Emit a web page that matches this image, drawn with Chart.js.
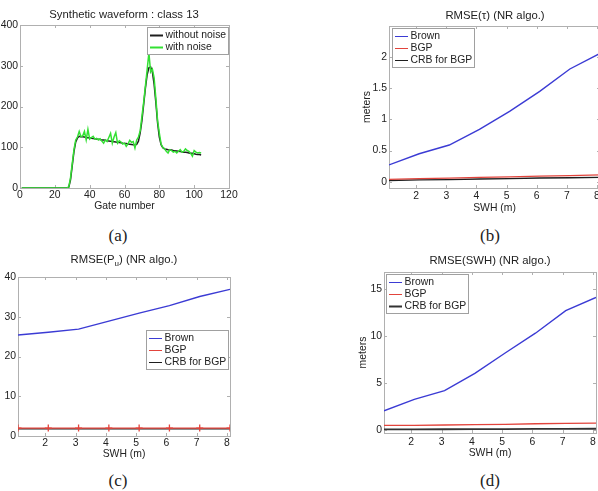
<!DOCTYPE html>
<html>
<head>
<meta charset="utf-8">
<script src="https://cdn.jsdelivr.net/npm/chart.js@4.4.1/dist/chart.umd.min.js"></script>
<style>
  html, body { margin: 0; padding: 0; background: #fff; }
  #fig { position: relative; width: 598px; height: 491px; overflow: hidden; }
  canvas { position: absolute; }
  .ttl { position: absolute; transform: translate(-50%, -50%); font: 11.3px "Liberation Sans", Arial, sans-serif; color: #222; white-space: nowrap; }
  .ttl sub { font-size: 8px; vertical-align: -3px; }
  .cap { position: absolute; transform: translate(-50%, -50%); font: 17px "Liberation Serif", serif; color: #222; }
</style>
</head>
<body>
<div id="fig">
  <canvas id="cA" width="246" height="215" style="left:0;top:0"></canvas>
  <canvas id="cB" width="265" height="215" style="left:355px;top:0"></canvas>
  <canvas id="cC" width="246" height="213" style="left:0;top:250px"></canvas>
  <canvas id="cD" width="270" height="213" style="left:350px;top:250px"></canvas>

  <div class="ttl" style="left:124px;top:14px">Synthetic waveform : class 13</div>
  <div class="ttl" style="left:495px;top:15px">RMSE(τ) (NR algo.)</div>
  <div class="ttl" style="left:124px;top:260px">RMSE(P<sub>u</sub>) (NR algo.)</div>
  <div class="ttl" style="left:490px;top:260px">RMSE(SWH) (NR algo.)</div>

  <div class="cap" style="left:118px;top:236px">(a)</div>
  <div class="cap" style="left:490px;top:236px">(b)</div>
  <div class="cap" style="left:118px;top:481px">(c)</div>
  <div class="cap" style="left:490px;top:481px">(d)</div>
</div>
<script>
// (a) waveform, one value per gate
var gates = Array.from({ length: 104 }, (_, i) => i + 1);
var noNoise = [0,0,0,0,0,0,0,0,0,0,0,0,0,0,0,0,0,0,0,0,0,0,0,0,0,0,0,
  2,20,55,90,113,123,127,126,125.5,125,124,123.5,123,122,121.5,121,120,119.5,119,118,117.5,117,116,
  115.5,115,114,113.5,113,112,111.5,111,110,109.5,109,108,107.5,107,106,105.5,107,115,135,165,
  205,245,278,295,297,285,255,210,160,125,106,99,96,95,94,93.5,93,92,91.5,91,90,89.5,89,88,
  87.5,87,86,85.5,85,84,83,82.5,82,81];
var withNoise = [0,0,0,0,0,0,0,0,0,0,0,0,0,0,0,0,0,0,0,0,0,0,0,0,0,0,0,
  3,25,60,95,118,125,139,126,128,139,118,144,120,124,127,120,122,118,121,115,110,118,114,
  124,134,110,125,136,110,116,113,108,110,102,108,117,112,114,98,118,125,140,175,
  210,250,290,332,285,292,270,220,165,135,108,100,96,90,86,94,92,88,90,86,90,94,88,90,
  96,92,90,85,78,92,88,86,87,86];
var gateTicks = [0, 20, 40, 60, 80, 100, 120];
var waveTicks = [0, 100, 200, 300, 400];

// (b)-(d) RMSE versus SWH
var swh = [1.1, 2.1, 3.1, 4.1, 5.1, 6.1, 7.1, 8.1];
var swhTicks = [2, 3, 4, 5, 6, 7, 8];
var brownTau = [0.27, 0.45, 0.59, 0.84, 1.13, 1.45, 1.81, 2.06];
var bgpTau = [0.04, 0.05, 0.06, 0.07, 0.08, 0.09, 0.10, 0.11];
var crbTau = [0.02, 0.03, 0.035, 0.045, 0.05, 0.06, 0.065, 0.07];
var tauTicks = [0, 0.5, 1, 1.5, 2];
var brownPu = [25.4, 26.1, 26.9, 28.9, 30.9, 32.8, 35.1, 36.9];
var bgpPu = [2.0, 2.0, 2.0, 2.0, 2.0, 2.0, 2.0, 2.0];
var crbPu = [1.8, 1.8, 1.8, 1.8, 1.8, 1.8, 1.8, 1.8];
var puTicks = [0, 10, 20, 30, 40];
var brownSwh = [2.06, 3.27, 4.2, 6.04, 8.2, 10.3, 12.7, 14.1];
var bgpSwh = [0.5, 0.52, 0.55, 0.58, 0.62, 0.68, 0.72, 0.75];
var crbSwh = [0.08, 0.09, 0.1, 0.11, 0.12, 0.13, 0.14, 0.15];
var swhErrTicks = [0, 5, 10, 15];

var FAM = '"Liberation Sans", Arial, sans-serif';
var small = { family: FAM, size: 10.4 };
var BLUE = '#3b3bd4', RED = '#e2443c', BLACK = '#1e1e1e', GREEN = '#33e033';

function pts(xs, ys) { return xs.map((x, i) => ({ x: x, y: ys[i] })); }

// matlab-like box with inward tick marks
var frame = {
  id: 'frame',
  beforeDatasetsDraw(chart) {
    var ctx = chart.ctx, a = chart.chartArea, x = chart.scales.x, y = chart.scales.y;
    ctx.save();
    ctx.strokeStyle = '#b0b0b0';
    ctx.lineWidth = 1;
    ctx.beginPath();
    x.ticks.forEach(t => {
      var p = Math.round(x.getPixelForValue(t.value)) + 0.5;
      ctx.moveTo(p, a.bottom); ctx.lineTo(p, a.bottom - 3);
      ctx.moveTo(p, a.top); ctx.lineTo(p, a.top + 3);
    });
    y.ticks.forEach(t => {
      var p = Math.round(y.getPixelForValue(t.value)) + 0.5;
      ctx.moveTo(a.left, p); ctx.lineTo(a.left + 3, p);
      ctx.moveTo(a.right, p); ctx.lineTo(a.right - 3, p);
    });
    ctx.stroke();
    ctx.strokeRect(Math.round(a.left) + 0.5, Math.round(a.top) + 0.5, Math.round(a.width), Math.round(a.height));
    ctx.restore();
  }
};

// legend drawn as a boxed table inside the plot
var boxLegend = {
  id: 'boxLegend',
  afterDatasetsDraw(chart, args, o) {
    var ctx = chart.ctx, a = chart.chartArea, sets = chart.data.datasets;
    ctx.save();
    ctx.font = '10.4px ' + FAM;
    var tw = Math.max.apply(null, sets.map(d => ctx.measureText(d.label).width));
    var w = Math.round(tw + 20.5), row = 12, h = Math.round(sets.length * row + 3);
    var x = Math.round(o.side == 'right' ? a.right - o.dx - w : a.left + o.dx);
    var y = Math.round(a.top + o.dy);
    ctx.fillStyle = '#fff';
    ctx.fillRect(x, y, w, h);
    ctx.strokeStyle = '#a0a0a0';
    ctx.lineWidth = 1;
    ctx.strokeRect(x + 0.5, y + 0.5, w, h);
    sets.forEach((d, i) => {
      var cy = Math.round(y + 1.5 + row * (i + 0.5)) + 0.5;
      ctx.strokeStyle = d.borderColor;
      ctx.lineWidth = Math.max(1, Math.round(d.borderWidth));
      ctx.beginPath();
      ctx.moveTo(x + 3, cy); ctx.lineTo(x + 16, cy);
      ctx.stroke();
      ctx.fillStyle = '#222';
      ctx.textBaseline = 'middle';
      ctx.fillText(d.label, x + 18.5, cy);
    });
    ctx.restore();
  }
};

function xAxis(min, max, ticks, h, tickPad, titleText, titlePad) {
  return {
    type: 'linear', position: 'bottom', min: min, max: max,
    afterBuildTicks: s => { s.ticks = ticks.map(v => ({ value: v })); },
    afterFit: s => { s.height = h; },
    grid: { display: false, drawTicks: false },
    border: { display: false },
    ticks: { font: small, color: '#222', padding: tickPad, maxRotation: 0, autoSkip: false, callback: v => String(v) },
    title: { display: true, text: titleText, font: small, color: '#222', padding: { top: 0, bottom: titlePad } }
  };
}

function yAxis(min, max, ticks, w, titleText, titlePad) {
  return {
    type: 'linear', position: 'left', min: min, max: max,
    afterBuildTicks: s => { s.ticks = ticks.map(v => ({ value: v })); },
    afterFit: s => { s.width = w; },
    grid: { display: false, drawTicks: false },
    border: { display: false },
    ticks: { font: small, color: '#222', padding: 2, autoSkip: false, callback: v => String(v) },
    title: { display: !!titleText, text: titleText || '', font: small, color: '#222', padding: { top: titlePad || 0, bottom: 0 } }
  };
}

function panel(id, datasets, scales, padding, legendPos) {
  return new Chart(document.getElementById(id), {
    type: 'line',
    data: { datasets: datasets },
    options: {
      responsive: false,
      animation: false,
      events: [],
      layout: { padding: padding },
      elements: { point: { radius: 0 }, line: { tension: 0 } },
      scales: scales,
      plugins: { legend: { display: false }, tooltip: { enabled: false }, boxLegend: legendPos }
    },
    plugins: [frame, boxLegend]
  });
}

// (a)
panel('cA', [
  { label: 'without noise', data: pts(gates, noNoise), borderColor: BLACK, borderWidth: 1.5, order: 1 },
  { label: 'with noise', data: pts(gates, withNoise), borderColor: GREEN, borderWidth: 1.5, order: 0 }
], {
  x: xAxis(0, 120, gateTicks, 27, 1, 'Gate number', 3),
  y: yAxis(0, 400, waveTicks, 20)
}, { top: 25, right: 17, left: 0, bottom: 0 }, { side: 'right', dx: 1, dy: 2 });

// (b)
panel('cB', [
  { label: 'Brown', data: pts(swh, brownTau), borderColor: BLUE, borderWidth: 1.4 },
  { label: 'BGP', data: pts(swh, bgpTau), borderColor: RED, borderWidth: 1.2 },
  { label: 'CRB for BGP', data: pts(swh, crbTau), borderColor: BLACK, borderWidth: 1.4 }
], {
  x: xAxis(1.1, 8.1, swhTicks, 27, 2, 'SWH (m)', 1),
  y: yAxis(-0.1, 2.5, tauTicks, 34, 'meters', 6)
}, { top: 26, right: 20, left: 0, bottom: 0 }, { side: 'left', dx: 3, dy: 2 });

// (c)
panel('cC', [
  { label: 'Brown', data: pts(swh, brownPu), borderColor: BLUE, borderWidth: 1.4 },
  { label: 'BGP', data: pts(swh, bgpPu), borderColor: RED, borderWidth: 1.2,
    pointStyle: 'cross', pointRadius: 3.5, pointBorderColor: RED, pointBorderWidth: 1.3, order: 0 },
  { label: 'CRB for BGP', data: pts(swh, crbPu), borderColor: BLACK, borderWidth: 1.4, order: 1 }
], {
  x: xAxis(1.1, 8.1, swhTicks, 27, 1, 'SWH (m)', 3),
  y: yAxis(0, 40, puTicks, 18)
}, { top: 27, right: 16, left: 0, bottom: 0 }, { side: 'right', dx: 2, dy: 53 });

// (d)
panel('cD', [
  { label: 'Brown', data: pts(swh, brownSwh), borderColor: BLUE, borderWidth: 1.4 },
  { label: 'BGP', data: pts(swh, bgpSwh), borderColor: RED, borderWidth: 1.3 },
  { label: 'CRB for BGP', data: pts(swh, crbSwh), borderColor: '#333', borderWidth: 1.8 }
], {
  x: xAxis(1.1, 8.1, swhTicks, 30, 3, 'SWH (m)', 4),
  y: yAxis(-0.3, 16.8, swhErrTicks, 34, 'meters', 7)
}, { top: 22, right: 24, left: 0, bottom: 0 }, { side: 'left', dx: 2, dy: 2 });
</script>
</body>
</html>
